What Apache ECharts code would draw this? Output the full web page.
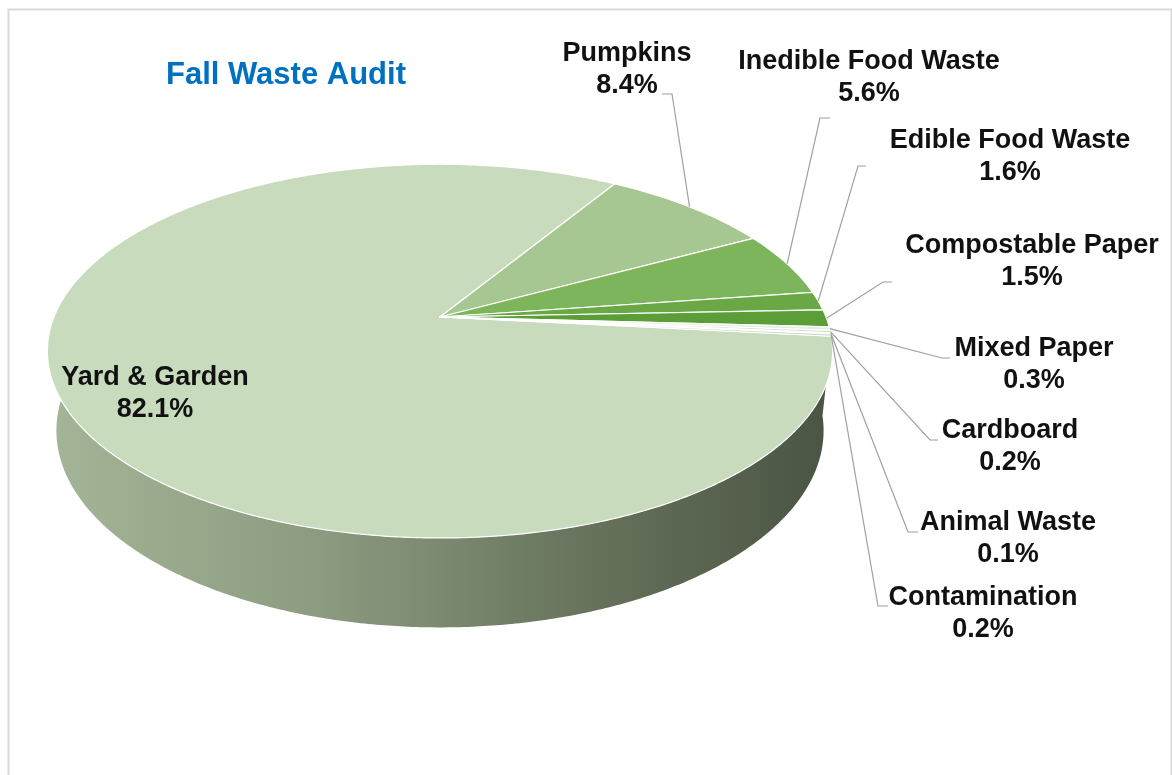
<!DOCTYPE html>
<html>
<head>
<meta charset="utf-8">
<script src="https://cdn.jsdelivr.net/npm/echarts@6/dist/echarts.min.js"></script>
<style>
html,body{margin:0;padding:0;background:#fff;}
#chart{width:1172px;height:775px;}
</style>
</head>
<body>
<div id="chart"></div>
<script>
// ---- data ----
const categories = ['Yard & Garden','Pumpkins','Inedible Food Waste','Edible Food Waste','Compostable Paper','Mixed Paper','Cardboard','Animal Waste','Contamination'];
const percents = [82.1, 8.4, 5.6, 1.6, 1.5, 0.3, 0.2, 0.1, 0.2];
const titleText = 'Fall Waste Audit';

// ---- styles / layout ----
const topColors = ['#c8dbbd','#a6c792','#7db55c','#69a845','#5b9d37','#e6ece2','#d3dfcb','#eef2ea','#ccd9c3'];
const wallColors = ['#8a9a7e','#7d9270','#5c8445','#4f7a37','#45702e','#b8c0b2','#aab5a3','#c2c8bd','#a3ae9b'];
// label centre [x,y], leader anchor [x,y], elbow x
const labelCenters = [[155,394],[627,70],[869,78],[1010,157],[1032,262],[1034,365],[1010,447],[1008,539],[983,614]];
const labelAnchors = [null,[662,94],[830,118],[866,166],[892,282],[950,358],[938,440],[918,532],[888,606]];
const labelElbows = [null,672,820,858,883,942,930,908,878];

// ---- 3D projection parameters ----
const CX = 440, CY = 317, S = 386, PHI = 27.9 * Math.PI / 180, DIST = 4.84, H = 0.235;
const START_DEG = 6;
const sinP = Math.sin(PHI), cosP = Math.cos(PHI);
function proj(thetaDeg, h) {
  const t = thetaDeg * Math.PI / 180;
  const x = Math.cos(t), z = Math.sin(t);
  const yc = h * cosP - z * sinP;
  const zc = h * sinP + z * cosP;
  const s = DIST / (DIST - zc);
  return [CX + S * x * s, CY - S * yc * s];
}
function arc(a0, a1, h) {
  const pts = [];
  const n = Math.max(2, Math.ceil(Math.abs(a1 - a0) / 0.5));
  for (let i = 0; i <= n; i++) pts.push(proj(a0 + (a1 - a0) * i / n, h));
  return pts;
}

const total = percents.reduce((a, b) => a + b, 0);
const startAngles = [];
{
  let acc = START_DEG;
  for (const p of percents) { startAngles.push(acc); acc += p / total * 360; }
}

const FONT = '"Liberation Sans", Arial, sans-serif';

function renderItem(params, api) {
  const i = params.dataIndex;
  const v = api.value(0);
  const a0 = startAngles[i];
  const a1 = a0 + v / total * 360;
  const children = [];
  // wall (front visible range only)
  const w0 = Math.max(a0, -5), w1 = Math.min(a1, 190);
  if (w1 > w0) {
    const top = arc(w0, w1, 0);
    const bot = arc(w1, w0, -H);
    children.push({
      type: 'polygon', z2: 1,
      shape: { points: top.concat(bot) },
      style: {
        fill: i === 0 ? {
          type: 'linear', x: 40, y: 0, x2: 830, y2: 0, global: true,
          colorStops: [
            { offset: 0, color: '#a5b597' },
            { offset: 0.35, color: '#8c9c80' },
            { offset: 0.7, color: '#66725c' },
            { offset: 1, color: '#4a5443' }
          ]
        } : wallColors[i],
        stroke: null
      }
    });
  }
  // top face
  const pts = [[CX, CY]].concat(arc(a0, a1, 0));
  children.push({
    type: 'polygon', z2: 10,
    shape: { points: pts },
    style: { fill: topColors[i], stroke: '#ffffff', lineWidth: 1.2, lineJoin: 'round' }
  });
  // leader line
  if (labelAnchors[i]) {
    const mid = proj((a0 + a1) / 2, 0);
    const an = labelAnchors[i];
    children.push({
      type: 'polyline', z2: 15,
      shape: { points: [mid, [labelElbows[i], an[1]], an] },
      style: { stroke: '#a0a0a0', lineWidth: 1.2, fill: null }
    });
  }
  // label
  children.push({
    type: 'text', z2: 20,
    x: labelCenters[i][0], y: labelCenters[i][1],
    style: {
      text: categories[i] + '\n' + v.toFixed(1) + '%',
      fill: '#111111',
      font: 'bold 27px ' + FONT,
      align: 'center', verticalAlign: 'middle',
      lineHeight: 32
    }
  });
  return { type: 'group', children: children };
}

const chart = echarts.init(document.getElementById('chart'), null, { renderer: 'canvas' });
chart.setOption({
  backgroundColor: '#ffffff',
  animation: false,
  title: {
    text: titleText, left: 166, top: 60, padding: 0,
    textStyle: { color: '#0070c0', fontSize: 31, fontWeight: 'bold', fontFamily: FONT }
  },
  graphic: [{
    type: 'rect', left: 6, top: 7, z: -10,
    shape: { width: 1163, height: 775 },
    style: { fill: null, stroke: '#d9d9d9', lineWidth: 2 }
  }],
  series: [{
    type: 'custom',
    coordinateSystem: 'none',
    renderItem: renderItem,
    data: percents.map((p, i) => ({ name: categories[i], value: [p] }))
  }]
});
</script>
</body>
</html>
